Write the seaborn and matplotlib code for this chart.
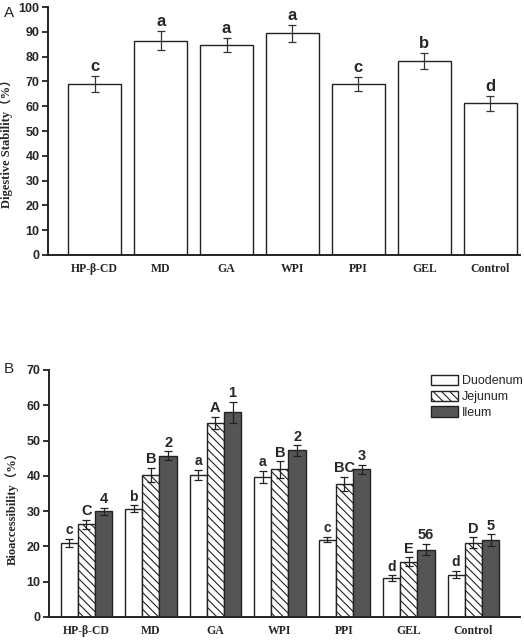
import numpy as np
import pandas as pd
import seaborn as sns
import matplotlib.pyplot as plt

sns.set_style("white")
plt.rcParams['font.family'] = ['Liberation Sans', 'DejaVu Sans']
plt.rcParams['hatch.linewidth'] = 0.8

# panel A data
carriers = ["HP-β-CD", "MD", "GA", "WPI", "PPI", "GEL", "Control"]
stability = [68.8, 86.5, 84.7, 89.4, 69.0, 78.2, 61.2]
stability_err = [3.2, 4.0, 3.0, 3.3, 2.7, 3.3, 3.0]
stability_letters = ["c", "a", "a", "a", "c", "b", "d"]

# panel B data
phases = ["Duodenum", "Jejunum", "Ileum"]
duodenum = [21.0, 30.7, 40.2, 39.7, 21.9, 11.0, 12.0]
duodenum_err = [1.2, 1.0, 1.5, 1.8, 0.8, 0.9, 1.1]
jejunum = [26.2, 40.2, 55.0, 41.8, 37.8, 15.7, 21.0]
jejunum_err = [1.3, 2.1, 1.8, 2.3, 2.0, 1.3, 1.6]
ileum = [30.0, 45.7, 58.0, 47.2, 41.9, 19.1, 21.8]
ileum_err = [1.0, 1.2, 3.0, 1.5, 1.3, 1.6, 1.6]
duodenum_letters = ["c", "b", "a", "a", "c", "d", "d"]
jejunum_letters = ["C", "B", "A", "B", "BC", "E", "D"]
ileum_letters = ["4", "2", "1", "2", "3", "56", "5"]

serif_bold = dict(family=['Liberation Serif', 'Noto Sans CJK SC'], weight='bold')

fig = plt.figure(figsize=(5.24, 6.4), dpi=100)
axA = fig.add_axes([0.0916, 0.6016, 0.9004, 0.3874])
axB = fig.add_axes([0.0935, 0.036, 0.8985, 0.386])


def style_axis(ax):
    for s in ["top", "right"]:
        ax.spines[s].set_visible(False)
    for s in ["left", "bottom"]:
        ax.spines[s].set_linewidth(1.4)
        ax.spines[s].set_color("#222222")
    ax.tick_params(axis="y", direction="out", length=4, width=1.3, color="#222222",
                   labelsize=9, pad=2, left=True)
    ax.tick_params(axis="x", length=0, pad=6)
    for t in ax.get_yticklabels():
        t.set_fontweight("bold")
    for t in ax.get_xticklabels():
        t.set_fontfamily(['Liberation Serif'])
        t.set_fontweight("bold")
        t.set_fontsize(8.5)


# ---- panel A
dfA = pd.DataFrame({"carrier": carriers, "value": stability})
sns.barplot(data=dfA, x="carrier", y="value", ax=axA, color="white",
            edgecolor="#222222", linewidth=1.0, width=0.8, errorbar=None,
            saturation=1)
xs = np.arange(len(carriers))
axA.errorbar(xs, stability, yerr=stability_err, fmt="none", ecolor="#333333",
             elinewidth=0.9, capsize=3, capthick=0.9)
for x, v, e, lab in zip(xs, stability, stability_err, stability_letters):
    axA.text(x, v + e + 0.8, lab, ha="center", va="bottom", fontsize=12, fontweight="bold")
axA.set_xlim(-0.71, 6.45)
axA.set_ylim(0, 100)
axA.set_yticks(range(0, 101, 10))
axA.set_xlabel("")
axA.set_ylabel("Digestive Stability（%）", fontsize=9, **serif_bold)
axA.yaxis.set_label_coords(-0.074, 0.46)
style_axis(axA)

# ---- panel B
dfB = pd.DataFrame({
    "carrier": carriers * 3,
    "phase": [p for p in phases for _ in carriers],
    "value": duodenum + jejunum + ileum,
})
sns.barplot(data=dfB, x="carrier", y="value", hue="phase", ax=axB,
            palette=["white", "white", "#555555"], edgecolor="#222222",
            linewidth=1.0, width=0.8, errorbar=None, saturation=1)
hatches = ["", "\\\\\\\\", ""]
for cont, h in zip(axB.containers, hatches):
    for p in cont:
        p.set_hatch(h)

errs = [duodenum_err, jejunum_err, ileum_err]
vals = [duodenum, jejunum, ileum]
labs = [duodenum_letters, jejunum_letters, ileum_letters]
sizes = [10, 10.5, 10.5]
for cont, v, e, lb, fs in zip(axB.containers, vals, errs, labs, sizes):
    cx = [p.get_x() + p.get_width() / 2 for p in cont]
    axB.errorbar(cx, v, yerr=e, fmt="none", ecolor="#222222",
                 elinewidth=0.9, capsize=3, capthick=0.9)
    for x, y, ee, t in zip(cx, v, e, lb):
        axB.text(x, y + ee + 0.4, t, ha="center", va="bottom", fontsize=fs, fontweight="bold")

axB.set_xlim(-0.58, 6.72)
axB.set_ylim(0, 70)
axB.set_yticks(range(0, 71, 10))
axB.set_xlabel("")
axB.set_ylabel("Bioaccessibility（%）", fontsize=9, **serif_bold)
axB.yaxis.set_label_coords(-0.064, 0.45)
style_axis(axB)

leg = axB.legend(loc="upper left", bbox_to_anchor=(0.80, 1.0), frameon=False,
                 fontsize=9, handlelength=2.2, handleheight=0.9, handletextpad=0.3,
                 labelspacing=0.25, borderaxespad=0)
for hnd, h in zip(leg.legend_handles, hatches):
    hnd.set_hatch(h)

fig.text(0.008, 0.99, "A", fontsize=11, va="top", ha="left")
fig.text(0.008, 0.435, "B", fontsize=11, va="top", ha="left")

fig.savefig("out.png", dpi=100)
